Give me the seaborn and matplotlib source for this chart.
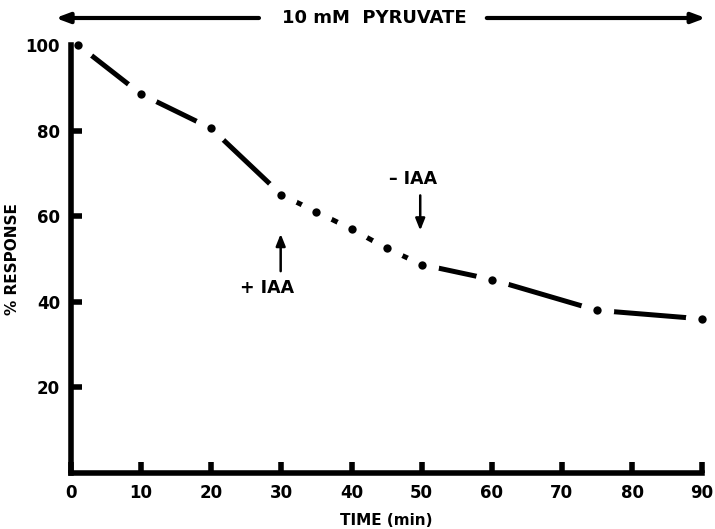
import matplotlib
matplotlib.use("Agg")
import matplotlib.pyplot as plt
import seaborn as sns
import pandas as pd

# values
time_min = [1, 10, 20, 30, 35, 40, 45, 50, 60, 75, 90]
response = [100, 88.5, 80.5, 65, 61, 57, 52.5, 48.7, 45.2, 38, 36]
x_ticks = [0, 10, 20, 30, 40, 50, 60, 70, 80, 90]
y_ticks = [20, 40, 60, 80, 100]

df = pd.DataFrame({"time": time_min, "response": response})

sns.set_style("white")
plt.rcParams["font.family"] = ["DejaVu Sans"]
plt.rcParams["font.weight"] = "bold"
plt.rcParams["text.color"] = "black"
plt.rcParams["axes.labelcolor"] = "black"
plt.rcParams["xtick.color"] = "black"
plt.rcParams["ytick.color"] = "black"

fig = plt.figure(figsize=(7.15, 5.29), dpi=100)
ax = fig.add_axes([0.0993, 0.1059, 0.8827, 0.8091])

# line with gaps around the dots (white marker edge cuts the line)
sns.lineplot(data=df, x="time", y="response", ax=ax, color="black", lw=3.6,
             marker="o", markersize=15, markerfacecolor="black",
             markeredgecolor="white", markeredgewidth=9, clip_on=False)

ax.set_xlim(0, 90)
ax.set_ylim(0, 100)
ax.set_xticks(x_ticks)
ax.set_yticks(y_ticks)
ax.tick_params(bottom=True, left=True, direction="in", length=8, width=4,
               labelsize=12, pad=8, colors="black")
for lab in ax.get_xticklabels() + ax.get_yticklabels():
    lab.set_fontweight("bold")
for side in ["top", "right"]:
    ax.spines[side].set_visible(False)
for side in ["left", "bottom"]:
    ax.spines[side].set_linewidth(4)
    ax.spines[side].set_color("black")

ax.set_xlabel("TIME (min)", fontsize=11, fontweight="bold")
ax.set_ylabel("% RESPONSE", fontsize=11, fontweight="bold")
ax.xaxis.set_label_coords(0.5, -0.093)
ax.yaxis.set_label_coords(-0.081, 0.5)

# top pyruvate arrow
arr = dict(arrowstyle="-|>,head_length=0.8,head_width=0.3", color="black", lw=3)
ax.text(43.2, 106.3, "10 mM  PYRUVATE", ha="center", va="center",
        fontsize=13, fontweight="bold", clip_on=False)
ax.annotate("", xy=(-2.6, 106.3), xytext=(27.2, 106.3), arrowprops=arr,
            annotation_clip=False)
ax.annotate("", xy=(90.9, 106.3), xytext=(58.9, 106.3), arrowprops=arr,
            annotation_clip=False)

# IAA arrows
small = dict(arrowstyle="-|>,head_length=0.7,head_width=0.28", color="black", lw=1.8)
ax.annotate("", xy=(29.9, 56.5), xytext=(29.9, 46.5), arrowprops=small)
ax.text(28.0, 43.2, "+ IAA", ha="center", va="center", fontsize=12.5, fontweight="bold")
ax.annotate("", xy=(49.8, 56.0), xytext=(49.8, 65.5), arrowprops=small)
ax.text(48.8, 68.7, "\u2013 IAA", ha="center", va="center", fontsize=12.5, fontweight="bold")

fig.savefig("out.png", dpi=100)
